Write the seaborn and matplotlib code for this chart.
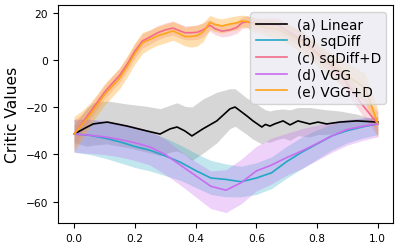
import numpy as np
import pandas as pd
import matplotlib
matplotlib.use("Agg")
import matplotlib.pyplot as plt
import seaborn as sns

# (a) Linear
x_lin = [0.0, 0.043, 0.063, 0.109, 0.174, 0.24, 0.283, 0.316, 0.339, 0.365, 0.388, 0.424,
         0.47, 0.513, 0.53, 0.569, 0.589, 0.618, 0.63, 0.645, 0.66, 0.688, 0.711, 0.737,
         0.776, 0.803, 0.832, 0.875, 0.931, 1.0]
y_lin = [-31.3, -28.3, -27.0, -26.2, -27.9, -30.0, -31.3, -29.1, -28.3, -30.0, -32.1, -29.1,
         -25.7, -20.6, -19.8, -23.6, -25.7, -28.3, -27.2, -27.9, -27.0, -25.7, -27.4, -25.7,
         -27.0, -26.2, -27.0, -26.2, -25.7, -26.2]
lo_lin = [-35.0, -36.5, -36.0, -35.5, -37.0, -39.0, -40.5, -39.0, -38.5, -40.0, -42.5, -39.5,
          -35.0, -29.0, -28.0, -31.5, -33.5, -35.5, -34.5, -34.8, -34.0, -33.0, -34.0, -32.0,
          -32.5, -31.5, -31.5, -30.5, -29.0, -27.0]
hi_lin = [-27.5, -20.0, -18.0, -17.2, -18.5, -19.5, -20.5, -19.0, -18.0, -19.5, -19.8, -16.4,
          -13.5, -12.0, -12.0, -16.0, -17.5, -20.0, -21.0, -21.5, -21.0, -20.6, -21.0, -20.0,
          -20.0, -20.5, -21.0, -21.5, -22.8, -25.5]

# (b) sqDiff
x_sq = [0.0, 0.05, 0.1, 0.15, 0.2, 0.25, 0.3, 0.35, 0.4, 0.45, 0.5, 0.55, 0.6, 0.65, 0.7,
        0.75, 0.8, 0.85, 0.9, 0.95, 1.0]
y_sq = [-31.3, -31.8, -33.0, -34.6, -36.6, -38.2, -40.6, -43.3, -46.8, -50.0, -50.6, -51.6,
        -50.0, -47.8, -43.0, -39.0, -35.5, -32.0, -29.8, -28.2, -27.0]
lo_sq = [-39.0, -40.0, -41.5, -43.5, -45.5, -47.0, -49.0, -51.0, -54.0, -57.0, -58.0, -58.0,
         -57.0, -54.5, -50.0, -46.0, -42.0, -38.0, -35.0, -33.0, -31.5]
hi_sq = [-25.0, -25.0, -26.0, -27.5, -29.0, -30.5, -33.0, -36.0, -39.5, -42.5, -44.0, -45.0,
         -43.5, -41.0, -36.5, -32.5, -29.5, -27.0, -25.5, -24.5, -24.0]

# (c) sqDiff+D
x_sqd = [0.0, 0.025, 0.05, 0.075, 0.1, 0.125, 0.15, 0.175, 0.2, 0.225, 0.25, 0.275, 0.3,
         0.325, 0.345, 0.365, 0.385, 0.405, 0.425, 0.447, 0.464, 0.487, 0.513, 0.535, 0.553,
         0.569, 0.59, 0.61, 0.63, 0.67, 0.75, 0.816, 0.891, 0.947, 1.0]
y_sqd = [-31.3, -27.0, -22.5, -18.0, -13.5, -9.8, -6.3, -1.5, 4.0, 8.3, 10.0, 11.8, 13.0,
         13.8, 12.8, 11.8, 11.8, 12.0, 13.0, 15.0, 13.5, 12.5, 13.0, 14.0, 16.0,
         16.5, 16.0, 15.5, 15.3, 15.1, 8.7, 1.5, -8.3, -18.5, -27.0]
hw_sqd = [6.0, 4.0, 3.0, 3.0, 3.0, 3.0, 3.0, 3.0, 3.0, 3.0, 3.0, 3.0, 3.0,
          3.0, 3.0, 3.0, 3.0, 3.0, 3.0, 2.5, 2.5, 2.5, 2.5, 2.5, 2.5,
          2.5, 2.5, 2.5, 3.0, 3.0, 3.5, 3.5, 4.0, 4.5, 5.0]

# (d) VGG
x_vgg = [0.0, 0.05, 0.1, 0.15, 0.2, 0.25, 0.3, 0.35, 0.4, 0.45, 0.5, 0.55, 0.6, 0.65, 0.7,
         0.75, 0.8, 0.85, 0.9, 0.95, 1.0]
y_vgg = [-31.3, -31.8, -32.5, -33.6, -35.0, -36.8, -40.0, -44.5, -49.0, -53.5, -55.2, -52.0,
         -47.0, -44.5, -41.3, -38.5, -35.3, -32.0, -29.3, -28.0, -27.0]
lo_vgg = [-39.0, -39.5, -40.0, -41.0, -42.5, -44.5, -48.5, -53.0, -58.0, -63.0, -64.7, -61.0,
          -55.5, -52.5, -48.8, -46.0, -42.5, -39.0, -36.0, -34.0, -32.5]
hi_vgg = [-25.0, -25.0, -25.5, -26.5, -28.0, -30.0, -33.5, -38.5, -43.0, -47.0, -46.5, -42.0,
          -36.5, -33.0, -31.0, -29.0, -27.5, -26.0, -25.0, -24.5, -24.0]

# (e) VGG+D
x_vggd = [0.0, 0.025, 0.05, 0.075, 0.1, 0.125, 0.15, 0.175, 0.2, 0.225, 0.25, 0.275, 0.3,
          0.325, 0.345, 0.365, 0.385, 0.405, 0.425, 0.447, 0.464, 0.487, 0.513, 0.535, 0.553,
          0.569, 0.59, 0.61, 0.63, 0.67, 0.75, 0.816, 0.891, 0.957, 1.0]
y_vggd = [-31.3, -27.5, -23.5, -19.0, -14.5, -11.0, -7.5, -2.5, 3.0, 7.5, 9.0, 10.5, 11.5,
          12.6, 11.5, 10.2, 10.2, 10.6, 12.1, 16.2, 15.3, 14.7, 15.5, 16.0, 16.8,
          16.6, 15.3, 14.8, 14.0, 13.5, 8.0, 1.0, -6.0, -11.4, -26.8]
hw_vggd = [7.5, 6.0, 5.0, 4.5, 4.5, 4.5, 4.5, 4.5, 4.5, 4.5, 4.0, 4.0, 4.0,
           4.0, 4.0, 4.0, 4.5, 4.5, 4.0, 3.0, 3.0, 3.0, 3.0, 3.0, 2.5,
           2.5, 3.0, 3.0, 3.5, 4.0, 4.5, 5.0, 5.5, 6.0, 6.0]

labels = ["(a) Linear", "(b) sqDiff", "(c) sqDiff+D", "(d) VGG", "(e) VGG+D"]
colors = ["black", "#22a7c4", "#f26b8a", "#c86df0", "#ffa31a"]
band_alpha = [0.16, 0.28, 0.25, 0.3, 0.35]

series = [
    (x_lin, y_lin, lo_lin, hi_lin),
    (x_sq, y_sq, lo_sq, hi_sq),
    (x_sqd, y_sqd, np.subtract(y_sqd, hw_sqd), np.add(y_sqd, hw_sqd)),
    (x_vgg, y_vgg, lo_vgg, hi_vgg),
    (x_vggd, y_vggd, np.subtract(y_vggd, hw_vggd), np.add(y_vggd, hw_vggd)),
]

fig = plt.figure(figsize=(4, 2.51), dpi=100)
ax = fig.add_axes([0.145, 0.108, 0.8375, 0.868])

for (xs, ys, lo, hi), lab, col, a in zip(series, labels, colors, band_alpha):
    df = pd.DataFrame({"x": xs, "y": ys})
    sns.lineplot(data=df, x="x", y="y", ax=ax, color=col, label=lab, lw=1.2)
    ax.fill_between(xs, lo, hi, color=col, alpha=a, lw=0)

ax.set_xlabel("")
ax.set_ylabel("Critic Values", fontsize=11.2)
ax.set_xticks([0.0, 0.2, 0.4, 0.6, 0.8, 1.0])
ax.set_yticks([-60, -40, -20, 0, 20])
ax.tick_params(labelsize=7.7)
ax.set_ylim(-69.1, 23.6)
ax.set_xlim(-0.053, 1.05)

leg = ax.legend(loc="upper right", fontsize=9.8, facecolor="#eaeaf2", framealpha=0.8,
                borderaxespad=0.5, labelspacing=0.2, handlelength=2.3, handletextpad=0.7)

fig.savefig("out.png", dpi=100)
